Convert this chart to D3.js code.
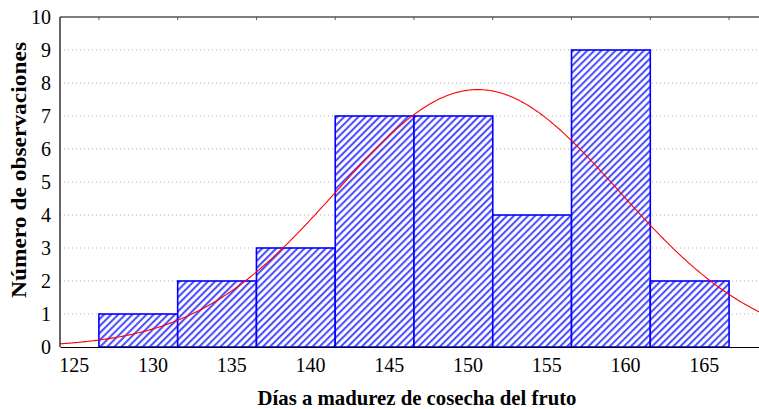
<!DOCTYPE html>
<html>
<head>
<meta charset="utf-8">
<script src="https://cdn.jsdelivr.net/npm/d3@7"></script>
<style>
  html, body { margin: 0; padding: 0; background: #fff; }
  svg { display: block; }
  svg text { font-family: "Liberation Serif", "Times New Roman", "DejaVu Serif", serif; }
</style>
</head>
<body>
<svg id="chart" width="759" height="409"></svg>
<script>
// Histogram of harvest maturity days with a fitted normal curve
const binLower = [126.6, 131.6, 136.6, 141.6, 146.6, 151.6, 156.6, 161.6];
const binWidth = 5;
const counts = [1, 2, 3, 7, 7, 4, 9, 2];
const xTicks = [125, 130, 135, 140, 145, 150, 155, 160, 165];
const yTicks = [0, 1, 2, 3, 4, 5, 6, 7, 8, 9, 10];
const fitMean = 150.65;
const fitSd = 8.95;

const serif = '"Liberation Serif", "Times New Roman", "DejaVu Serif", serif';
const plot = { left: 60, right: 759, top: 17, bottom: 347 };

const svg = d3.select("#chart");

const x = d3.scaleLinear().domain([124.13, 168.5]).range([plot.left, plot.right]);
const y = d3.scaleLinear().domain([0, 10]).range([plot.bottom, plot.top]);

// diagonal hatch fill
const defs = svg.append("defs");
const pat = defs.append("pattern")
  .attr("id", "hatch")
  .attr("patternUnits", "userSpaceOnUse")
  .attr("width", 5).attr("height", 5)
  .attr("patternTransform", "rotate(45)");
pat.append("rect").attr("width", 5).attr("height", 5).attr("fill", "#ffffff");
pat.append("rect").attr("x", 0).attr("width", 2.1).attr("height", 5).attr("fill", "#5050ff");

defs.append("clipPath").attr("id", "plotClip")
  .append("rect")
  .attr("x", plot.left).attr("y", plot.top)
  .attr("width", plot.right - plot.left).attr("height", plot.bottom - plot.top);

// dotted horizontal grid
svg.append("g").selectAll("line")
  .data(yTicks.filter(d => d > 0 && d < 10))
  .join("line")
  .attr("x1", plot.left).attr("x2", plot.right)
  .attr("y1", d => y(d)).attr("y2", d => y(d))
  .attr("stroke", "#b0b0b0")
  .attr("stroke-width", 1)
  .attr("stroke-dasharray", "1,3");

// bars
svg.append("g").selectAll("rect")
  .data(counts)
  .join("rect")
  .attr("x", (d, i) => x(binLower[i]))
  .attr("y", d => y(d))
  .attr("width", (d, i) => x(binLower[i] + binWidth) - x(binLower[i]))
  .attr("height", d => y(0) - y(d))
  .attr("fill", "url(#hatch)")
  .attr("stroke", "#0000ff")
  .attr("stroke-width", 1.6);

// fitted normal curve: expected count per bin
const total = d3.sum(counts);
const normal = v => total * binWidth / (fitSd * Math.sqrt(2 * Math.PI)) *
  Math.exp(-0.5 * Math.pow((v - fitMean) / fitSd, 2));
const curvePts = d3.range(x.domain()[0], x.domain()[1] + 0.1, 0.1).map(v => [v, normal(v)]);
svg.append("path")
  .datum(curvePts)
  .attr("clip-path", "url(#plotClip)")
  .attr("fill", "none")
  .attr("stroke", "#ff0000")
  .attr("stroke-width", 1.1)
  .attr("d", d3.line().x(d => x(d[0])).y(d => y(d[1])));

// frame lines
const frame = svg.append("g").attr("stroke", "#000").attr("stroke-width", 1.2);
frame.append("line").attr("x1", plot.left).attr("x2", plot.right).attr("y1", plot.top).attr("y2", plot.top);
frame.append("line").attr("x1", plot.left).attr("x2", plot.left).attr("y1", plot.top).attr("y2", plot.bottom);

// small ticks on the top edge at bin boundaries
const edges = binLower.concat([binLower[binLower.length - 1] + binWidth]);
svg.append("g").selectAll("line")
  .data(edges)
  .join("line")
  .attr("x1", d => x(d)).attr("x2", d => x(d))
  .attr("y1", plot.top).attr("y2", plot.top + 3)
  .attr("stroke", "#555").attr("stroke-width", 1);

// x axis
const xAxis = svg.append("g")
  .attr("transform", `translate(0,${plot.bottom})`)
  .call(d3.axisBottom(x).tickValues(xTicks).tickSize(0).tickPadding(11).tickFormat(d3.format("d")));
xAxis.attr("font-family", serif).attr("font-size", 20);
xAxis.select(".domain").attr("stroke", "#000").attr("stroke-width", 1.2);
xAxis.selectAll("text").style("font-family", serif).style("font-size", "20px").attr("fill", "#000");

// y axis
const yAxis = svg.append("g")
  .attr("transform", `translate(${plot.left},0)`)
  .call(d3.axisLeft(y).tickValues(yTicks).tickSize(0).tickPadding(9).tickFormat(d3.format("d")));
yAxis.attr("font-family", serif).attr("font-size", 20);
yAxis.select(".domain").remove();
yAxis.selectAll("text").style("font-family", serif).style("font-size", "20px").attr("fill", "#000");

// axis titles
svg.append("text")
  .attr("x", 417).attr("y", 405)
  .attr("text-anchor", "middle")
  .attr("textLength", 319).attr("lengthAdjust", "spacingAndGlyphs")
  .style("font-family", serif)
  .style("font-weight", "bold").style("font-size", "21px")
  .text("Días a madurez de cosecha del fruto");

svg.append("text")
  .attr("transform", "translate(26,170) rotate(-90)")
  .attr("text-anchor", "middle")
  .attr("textLength", 256).attr("lengthAdjust", "spacingAndGlyphs")
  .style("font-family", serif)
  .style("font-weight", "bold").style("font-size", "21px")
  .text("Número de observaciones");
</script>
</body>
</html>
